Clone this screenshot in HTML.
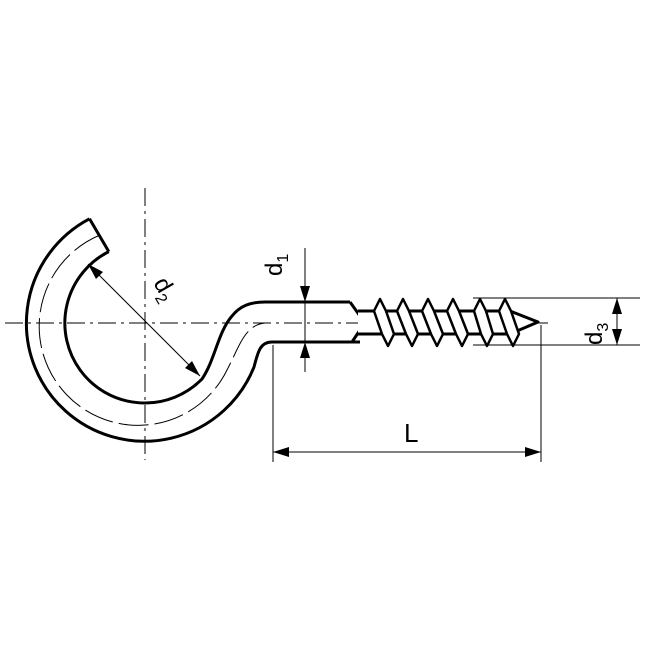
<!DOCTYPE html>
<html><head><style>body{margin:0;background:#fff}</style></head><body>
<svg width="648" height="648" viewBox="0 0 648 648" xmlns="http://www.w3.org/2000/svg" font-family="Liberation Sans, sans-serif">
<rect width="648" height="648" fill="#fff"/>
<g stroke="#000" stroke-width="1" fill="none">
<line x1="5" y1="323" x2="548" y2="323" stroke-dasharray="18,5,3,5"/>
<line x1="145" y1="188" x2="145" y2="460" stroke-dasharray="18,5,3,5"/>
<path d="M100,235 A99,99 0 1 0 228,368 C240,345 245,325 265,323" stroke-dasharray="30,6"/>
</g>
<g stroke="#000" stroke-width="3" fill="none" stroke-linejoin="round">
<path d="M89.5,218.8 A118,118 0 1 0 254,367 C258,352 260,342 272,342 L360,342"/>
<path d="M108.8,251.6 A80,80 0 1 0 202,379 C215,360 218,332 232,316 C240,306 250,302 265,302 L350,302"/>
<line x1="89.5" y1="218.8" x2="108.8" y2="251.6"/>
<path d="M350,302 L360,316 L360,330 L352,342" />
<path d="M358,311 L510,311 L538,322 L510,334 L358,334" fill="#fff"/>
</g>
<g stroke="#000" stroke-width="2.5" fill="#fff" stroke-linejoin="round">
<polygon points="374,311 380,299 386,311 394,334 388,346 382,334"/>
<polygon points="397,311 403,299 409,311 418,334 412,346 406,334"/>
<polygon points="422,311 428,299 434,311 443,334 437,346 431,334"/>
<polygon points="447,311 453,299 459,311 468,334 462,346 456,334"/>
<polygon points="474,311 480,299 486,311 493,334 487,346 481,334"/>
<polygon points="499,311 505,299 511,311 519,334 513,346 507,334"/>
</g>
<g stroke="#000" stroke-width="1" fill="none">
<line x1="305" y1="248" x2="305" y2="372"/>
<line x1="473" y1="298" x2="640" y2="298"/>
<line x1="473" y1="345" x2="640" y2="345"/>
<line x1="617" y1="298" x2="617" y2="345"/>
<line x1="273" y1="345" x2="273" y2="462"/>
<line x1="541" y1="325" x2="541" y2="462"/>
<line x1="273" y1="452" x2="541" y2="452"/>
<line x1="88" y1="264" x2="200" y2="376"/>
</g>
<g fill="#000">
<polygon points="305,302 300,286 310,286"/>
<polygon points="305,342 300,358 310,358"/>
<polygon points="617,298 612,314 622,314"/>
<polygon points="617,345 612,329 622,329"/>
<polygon points="273,452 289,447 289,457"/>
<polygon points="541,452 525,447 525,457"/>
<polygon points="88,264 103,272 96,279"/>
<polygon points="200,376 185,368 192,361"/>
</g>
<g font-size="24" fill="#000">
<text x="0" y="0" transform="translate(282,276) rotate(-90)">d<tspan font-size="16" dy="6">1</tspan></text>
<text x="0" y="0" transform="translate(602,345) rotate(-90)">d<tspan font-size="16" dy="6">3</tspan></text>
<text x="0" y="0" transform="translate(153,283) rotate(60)">d<tspan font-size="16" dy="6">2</tspan></text>
<text x="404" y="442" font-size="26">L</text>
</g>
</svg>
</body></html>
